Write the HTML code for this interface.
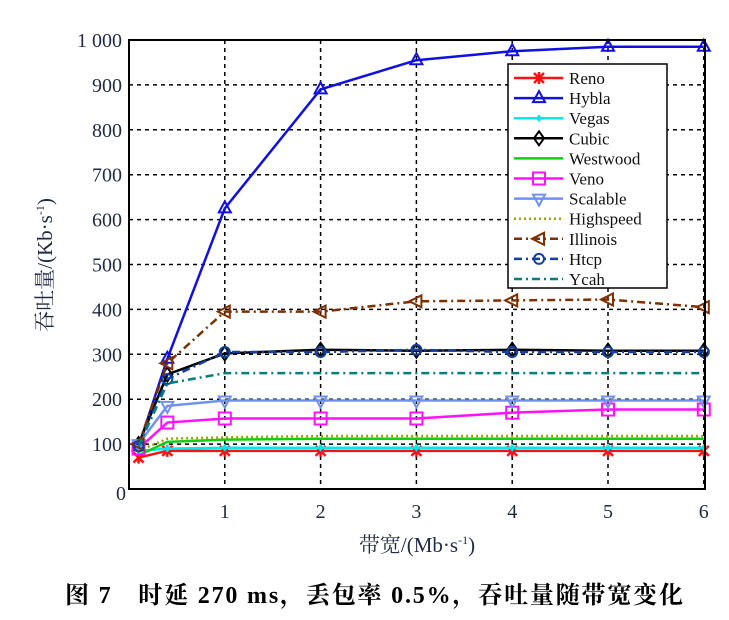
<!DOCTYPE html>
<html><head><meta charset="utf-8"><style>
html,body{margin:0;padding:0;background:#fff;width:729px;height:620px;overflow:hidden}
svg{display:block}
text{font-family:"Liberation Serif","Noto Serif CJK SC",serif}
</style></head><body>
<svg id="s" width="729" height="620" viewBox="0 0 729 620" xmlns="http://www.w3.org/2000/svg">
<rect x="0" y="0" width="729" height="620" fill="#fff"/>
<g id="grid"></g>
<g id="series"></g>
<rect x="129" y="40" width="576" height="449" fill="none" stroke="#000" stroke-width="2"/>
<g id="ticks" font-size="20" fill="#1f2a44"></g>
<text x="417" y="552" font-size="21" fill="#1f2a44" text-anchor="middle">带宽/(Mb·s<tspan font-size="12" dy="-8">-1</tspan><tspan dy="8">)</tspan></text>
<text transform="translate(52,265) rotate(-90)" font-size="21" fill="#1f2a44" text-anchor="middle">吞吐量/(Kb·s<tspan font-size="12" dy="-8">-1</tspan><tspan dy="8">)</tspan></text>
<text x="65" y="603" font-size="24" font-weight="bold" fill="#000" textLength="618" lengthAdjust="spacing">图 7　时延 270 ms，丢包率 0.5%，吞吐量随带宽变化</text>
<g id="legend"></g>
</svg>
<script>
var NS="http://www.w3.org/2000/svg";
function X(v){return 129+v*95.8}
function Y(v){return 489-v*0.449}
function el(t,a,p){var e=document.createElementNS(NS,t);for(var k in a)e.setAttribute(k,a[k]);p.appendChild(e);return e}
var g=document.getElementById('grid'),tk=document.getElementById('ticks');
for(var i=1;i<=6;i++){el('line',{x1:X(i),x2:X(i),y1:40,y2:489,stroke:'#000','stroke-width':1.5,'stroke-dasharray':'4,4'},g);
 var t=el('text',{x:X(i),y:518,'text-anchor':'middle'},tk);t.textContent=i;}
var t0=el('text',{x:121,y:500,'text-anchor':'middle'},tk);t0.textContent='0';
for(var v=100;v<=1000;v+=100){el('line',{x1:129,x2:705,y1:Y(v),y2:Y(v),stroke:'#000','stroke-width':1.5,'stroke-dasharray':'4,4'},g);
 var t=el('text',{x:122,y:Y(v)+7,'text-anchor':'end'},tk);t.textContent=v==1000?'1 000':v;}
var xs=[0.1,0.4,1,2,3,4,5,6];
var S=[
['Reno','#ff1010',[70,85,85,85,85,85,85,85],'','star'],
['Hybla','#1010e0',[95,290,625,890,955,975,985,985],'','tri'],
['Vegas','#00e8f0',[85,90,92,92,92,92,92,92],'','dot'],
['Cubic','#000',[100,255,302,310,308,310,308,308],'','dia'],
['Westwood','#10d010',[75,105,110,112,112,112,112,112],'',''],
['Veno','#ff10ff',[90,148,157,157,157,170,177,177],'','sq'],
['Scalable','#7090f0',[100,185,197,197,197,197,197,197],'','tri2'],
['Highspeed','#a0a000',[85,112,115,118,118,118,118,118],'2,3',''],
['Illinois','#803000',[100,280,395,395,418,420,422,405],'8,4,2,4','tril'],
['Htcp','#1040a0',[95,245,305,305,310,305,305,305],'8,4,2,4','circ'],
['Ycah','#008080',[95,235,258,258,258,258,258,258],'8,4,2,4','']
];
function mark(m,x,y,c,p){
 var a={fill:'none',stroke:c,'stroke-width':2};
 if(m=='star'){el('path',{d:'M'+(x-5)+','+(y-5)+'L'+(x+5)+','+(y+5)+'M'+(x+5)+','+(y-5)+'L'+(x-5)+','+(y+5)+'M'+x+','+(y-6)+'V'+(y+6),stroke:c,'stroke-width':2.5},p)}
 else if(m=='tri')el('polygon',Object.assign({points:x+','+(y-7)+' '+(x-6)+','+(y+4)+' '+(x+6)+','+(y+4)},a),p);
 else if(m=='tri2')el('polygon',Object.assign({points:x+','+(y+7)+' '+(x-6)+','+(y-4)+' '+(x+6)+','+(y-4)},a),p);
 else if(m=='tril')el('polygon',Object.assign({points:(x-7)+','+y+' '+(x+5)+','+(y-6)+' '+(x+5)+','+(y+6)},a),p);
 else if(m=='dia')el('polygon',Object.assign({points:x+','+(y-7)+' '+(x+5)+','+y+' '+x+','+(y+7)+' '+(x-5)+','+y},a),p);
 else if(m=='sq')el('rect',Object.assign({x:x-6,y:y-6,width:12,height:12},a),p);
 else if(m=='circ')el('circle',Object.assign({cx:x,cy:y,r:5},a),p);
 else if(m=='dot')el('polygon',{points:x+','+(y-4)+' '+(x+3)+','+y+' '+x+','+(y+4)+' '+(x-3)+','+y,fill:c},p);
}
var sg=document.getElementById('series'),lg=document.getElementById('legend');
S.forEach(function(s){
 var pts=xs.map(function(x,i){return X(x)+','+Y(s[2][i])}).join(' ');
 var a={points:pts,fill:'none',stroke:s[1],'stroke-width':2.5};if(s[3])a['stroke-dasharray']=s[3];
 el('polyline',a,sg);
 xs.forEach(function(x,i){mark(s[4],X(x),Y(s[2][i]),s[1],sg)});
});
el('rect',{x:508,y:64,width:159,height:224,fill:'#fff',stroke:'#000','stroke-width':1.5},lg);
S.forEach(function(s,i){
 var y=78+i*20.1;
 var a={x1:514,x2:563,y1:y,y2:y,stroke:s[1],'stroke-width':2.5};if(s[3])a['stroke-dasharray']=s[3];
 el('line',a,lg);mark(s[4],539,y,s[1],lg);
 var t=el('text',{x:569,y:y+6,'font-size':17,fill:'#111'},lg);t.textContent=s[0];
});
</script>
</body></html>
